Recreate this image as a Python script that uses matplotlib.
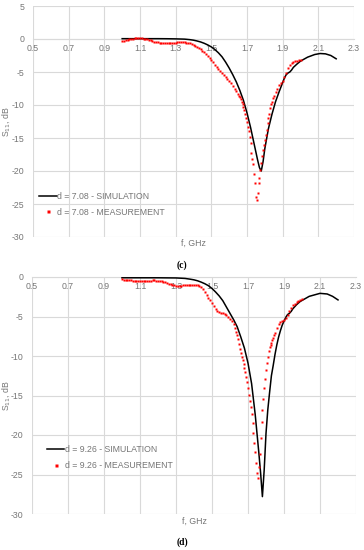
import matplotlib
matplotlib.use('Agg')
import matplotlib.pyplot as plt
import numpy as np

plt.rcParams['font.family'] = ['Liberation Sans', 'DejaVu Sans']
plt.rcParams['axes.unicode_minus'] = False

# ---- panel (c): d = 7.08 ----
sim_c_f = [1.00, 1.05, 1.10, 1.15, 1.20, 1.25, 1.30, 1.35, 1.38, 1.40, 1.42, 1.44, 1.46,
           1.48, 1.50, 1.52, 1.54, 1.56, 1.58, 1.60, 1.62, 1.64, 1.66, 1.68, 1.70, 1.72,
           1.74, 1.76, 1.77, 1.78, 1.79, 1.80, 1.82, 1.84, 1.86, 1.88, 1.90, 1.91, 1.92,
           1.93, 1.94, 1.95, 1.96, 1.98, 2.00, 2.04, 2.08, 2.11, 2.14, 2.17, 2.20]
sim_c_db = [0.05, 0.05, 0.05, 0.05, 0.05, 0.04, 0.02, -0.02, -0.1, -0.18, -0.3, -0.45, -0.65,
            -0.9, -1.2, -1.6, -2.1, -2.7, -3.5, -4.4, -5.4, -6.5, -7.8, -9.3, -11.2, -13.4,
            -15.9, -18.4, -19.5, -20.0, -18.6, -16.6, -13.6, -11.4, -9.5, -8.0, -6.6, -5.9, -5.4,
            -5.15, -5.0, -4.7, -4.3, -3.8, -3.35, -2.75, -2.35, -2.2, -2.25, -2.5, -3.0]

meas_c_f = np.round(np.concatenate([np.arange(1.00, 1.6501, 0.01),
                                    np.arange(1.655, 1.8451, 0.005),
                                    np.arange(1.85, 2.0001, 0.01)]), 3)
meas_c_db = [-0.3, -0.25, -0.2, -0.12, -0.05, 0.0, 0.05, 0.08, 0.1, 0.12,
             0.12, 0.1, 0.05, 0.0, -0.05, -0.12, -0.2, -0.3, -0.38, -0.45,
             -0.5, -0.55, -0.6, -0.62, -0.65, -0.65, -0.63, -0.6, -0.58, -0.56,
             -0.55, -0.52, -0.5, -0.5, -0.5, -0.52, -0.55, -0.6, -0.68, -0.78,
             -0.9, -1.05, -1.2, -1.35, -1.55, -1.8, -2.0, -2.3, -2.6, -2.9,
             -3.2, -3.5, -3.9, -4.2, -4.5, -4.8, -5.2, -5.5, -5.8, -6.1,
             -6.4, -6.7, -7.1, -7.5, -7.9, -8.3,
             -8.6, -8.8, -9.1, -9.5, -9.9, -10.3, -10.8, -11.4, -12.0, -12.6,
             -13.3, -14.0, -14.9, -15.8, -17.2, -18.2, -19.0, -20.4, -21.8, -23.9,
             -24.4, -23.4, -21.8, -21.0, -19.8, -18.8, -17.8, -16.8, -16.0, -15.3,
             -14.5, -13.8, -12.8, -12.0, -11.3, -10.5, -9.9, -9.5, -9.0,
             -8.6, -8.0, -7.5, -7.0, -6.6, -6.3, -5.8, -5.2, -4.4, -4.0,
             -3.7, -3.5, -3.4, -3.3, -3.2, -3.2]

# ---- panel (d): d = 9.26 ----
sim_d_f = [1.00, 1.10, 1.20, 1.30, 1.35, 1.38, 1.40, 1.42, 1.44, 1.46, 1.48, 1.50, 1.52,
           1.54, 1.56, 1.58, 1.60, 1.62, 1.64, 1.66, 1.68, 1.70, 1.72, 1.74, 1.76, 1.77,
           1.78, 1.79, 1.80, 1.81, 1.82, 1.83, 1.84, 1.85, 1.86, 1.87, 1.88, 1.89, 1.90,
           1.91, 1.92, 1.93, 1.94, 1.95, 1.97, 1.99, 2.04, 2.10, 2.14, 2.17, 2.20]
sim_d_db = [-0.1, -0.1, -0.1, -0.12, -0.18, -0.28, -0.36, -0.48, -0.65, -0.85, -1.1, -1.45, -1.9,
            -2.4, -3.0, -3.8, -4.6, -5.4, -6.3, -7.6, -9.0, -10.9, -13.5, -17.4, -22.2, -24.8,
            -27.8, -24.4, -19.8, -16.8, -14.6, -12.5, -11.2, -9.8, -8.6, -7.6, -6.8, -6.1, -5.6,
            -5.1, -4.75, -4.6, -4.35, -4.0, -3.5, -3.1, -2.45, -2.07, -2.15, -2.45, -2.9]

meas_d_f = np.round(np.concatenate([np.arange(1.00, 1.6301, 0.01),
                                    np.arange(1.635, 1.8451, 0.005),
                                    np.arange(1.85, 2.0001, 0.01)]), 3)
meas_d_db = [-0.3, -0.32, -0.35, -0.38, -0.4, -0.43, -0.46, -0.48, -0.5, -0.5,
             -0.52, -0.52, -0.5, -0.48, -0.47, -0.46, -0.45, -0.44, -0.44, -0.45,
             -0.47, -0.5, -0.55, -0.6, -0.68, -0.75, -0.85, -0.93, -1.0, -1.05,
             -1.08, -1.1, -1.1, -1.08, -1.05, -1.02, -1.0, -0.98, -0.97, -0.96,
             -0.95, -0.98, -1.05, -1.15, -1.3, -1.55, -1.9, -2.25, -2.6, -2.95,
             -3.35, -3.7, -4.0, -4.25, -4.4, -4.5, -4.6, -4.7, -4.85, -5.05,
             -5.3, -5.6, -6.0, -6.5,
             -6.9, -7.4, -7.9, -8.5, -9.1, -9.6, -10.1, -10.5, -11.0, -11.5,
             -12.0, -12.6, -13.3, -14.1, -14.9, -15.7, -16.5, -17.4, -18.5, -19.8,
             -21.0, -22.2, -23.6, -24.8, -25.5, -24.0, -22.4, -20.4, -18.4, -16.8,
             -15.4, -14.1, -12.9, -11.8, -10.9, -10.1, -9.4, -8.9, -8.6, -8.3,
             -8.0, -7.7, -7.4,
             -7.1, -6.5, -6.0, -5.7, -5.55, -5.45, -5.2, -4.8, -4.3, -3.9,
             -3.6, -3.4, -3.2, -3.05, -2.9, -2.8]

x_ticks = [0.5, 0.7, 0.9, 1.1, 1.3, 1.5, 1.7, 1.9, 2.1, 2.3]
grid_col = '#d9d9d9'
text_col = '#767676'
fs = 6.3

fig = plt.figure(figsize=(3.64, 5.5), dpi=100)
ax_c = fig.add_axes([33 / 364, 1 - 237 / 550, 321 / 364, 231 / 550])
ax_d = fig.add_axes([32 / 364, 1 - 514 / 550, 324 / 364, 237 / 550])


def style(ax, ylim, yticks, lab_x):
    ax.set_xlim(0.5, 2.3)
    ax.set_ylim(*ylim)
    ax.set_xticks(x_ticks)
    ax.set_xticklabels([f'{v:.1f}' for v in x_ticks])
    ax.set_yticks(yticks)
    ax.set_yticklabels([str(v) for v in yticks])
    ax.grid(True, color=grid_col, linewidth=0.8)
    ax.set_axisbelow(True)
    for s in ['top', 'right', 'left']:
        ax.spines[s].set_visible(False)
    ax.spines['bottom'].set_position(('data', 0))
    ax.spines['bottom'].set_color(grid_col)
    ax.spines['bottom'].set_linewidth(0.8)
    ax.tick_params(axis='both', length=0, labelsize=fs, colors=text_col)
    ax.tick_params(axis='x', pad=3.5)
    ax.tick_params(axis='y', pad=6)
    ax.set_ylabel('S$_{11}$, dB', fontsize=fs, color=text_col)
    ax.yaxis.set_label_coords(lab_x, 0.5)


style(ax_c, (-30, 5), list(range(-30, 6, 5)), -0.066)
style(ax_d, (-30, 0), list(range(-30, 1, 5)), -0.063)

ax_c.plot(sim_c_f, sim_c_db, color='black', lw=1.1, label='d = 7.08 - SIMULATION', zorder=3)
ax_c.plot(meas_c_f, meas_c_db, ls='none', marker='s', ms=1.8, mec='none', color='#ff0000',
          label='d = 7.08 - MEASUREMENT', zorder=4)
ax_d.plot(sim_d_f, sim_d_db, color='black', lw=1.1, label='d = 9.26 - SIMULATION', zorder=3)
ax_d.plot(meas_d_f, meas_d_db, ls='none', marker='s', ms=1.8, mec='none', color='#ff0000',
          label='d = 9.26 - MEASUREMENT', zorder=4)

for ax, ytxt, anchor in [(ax_c, -0.026, (0.008, 0.21)), (ax_d, -0.03, (0.035, 0.305))]:
    ax.text(0.5, ytxt, 'f, GHz', transform=ax.transAxes, ha='center', va='center',
            fontsize=fs, color=text_col)
    leg = ax.legend(loc='upper left', bbox_to_anchor=anchor, frameon=False, fontsize=fs,
                    handlelength=2.0, handletextpad=0.1, labelspacing=0.75, numpoints=1,
                    markerscale=1.2, borderaxespad=0)
    for t in leg.get_texts():
        t.set_color(text_col)

fig.text(0.5, 1 - 265 / 550, '(c)', ha='center', va='center', fontsize=7,
         fontweight='bold', family='Liberation Serif')
fig.text(0.5, 1 - 542 / 550, '(d)', ha='center', va='center', fontsize=7,
         fontweight='bold', family='Liberation Serif')

fig.savefig('out.png', dpi=100)
